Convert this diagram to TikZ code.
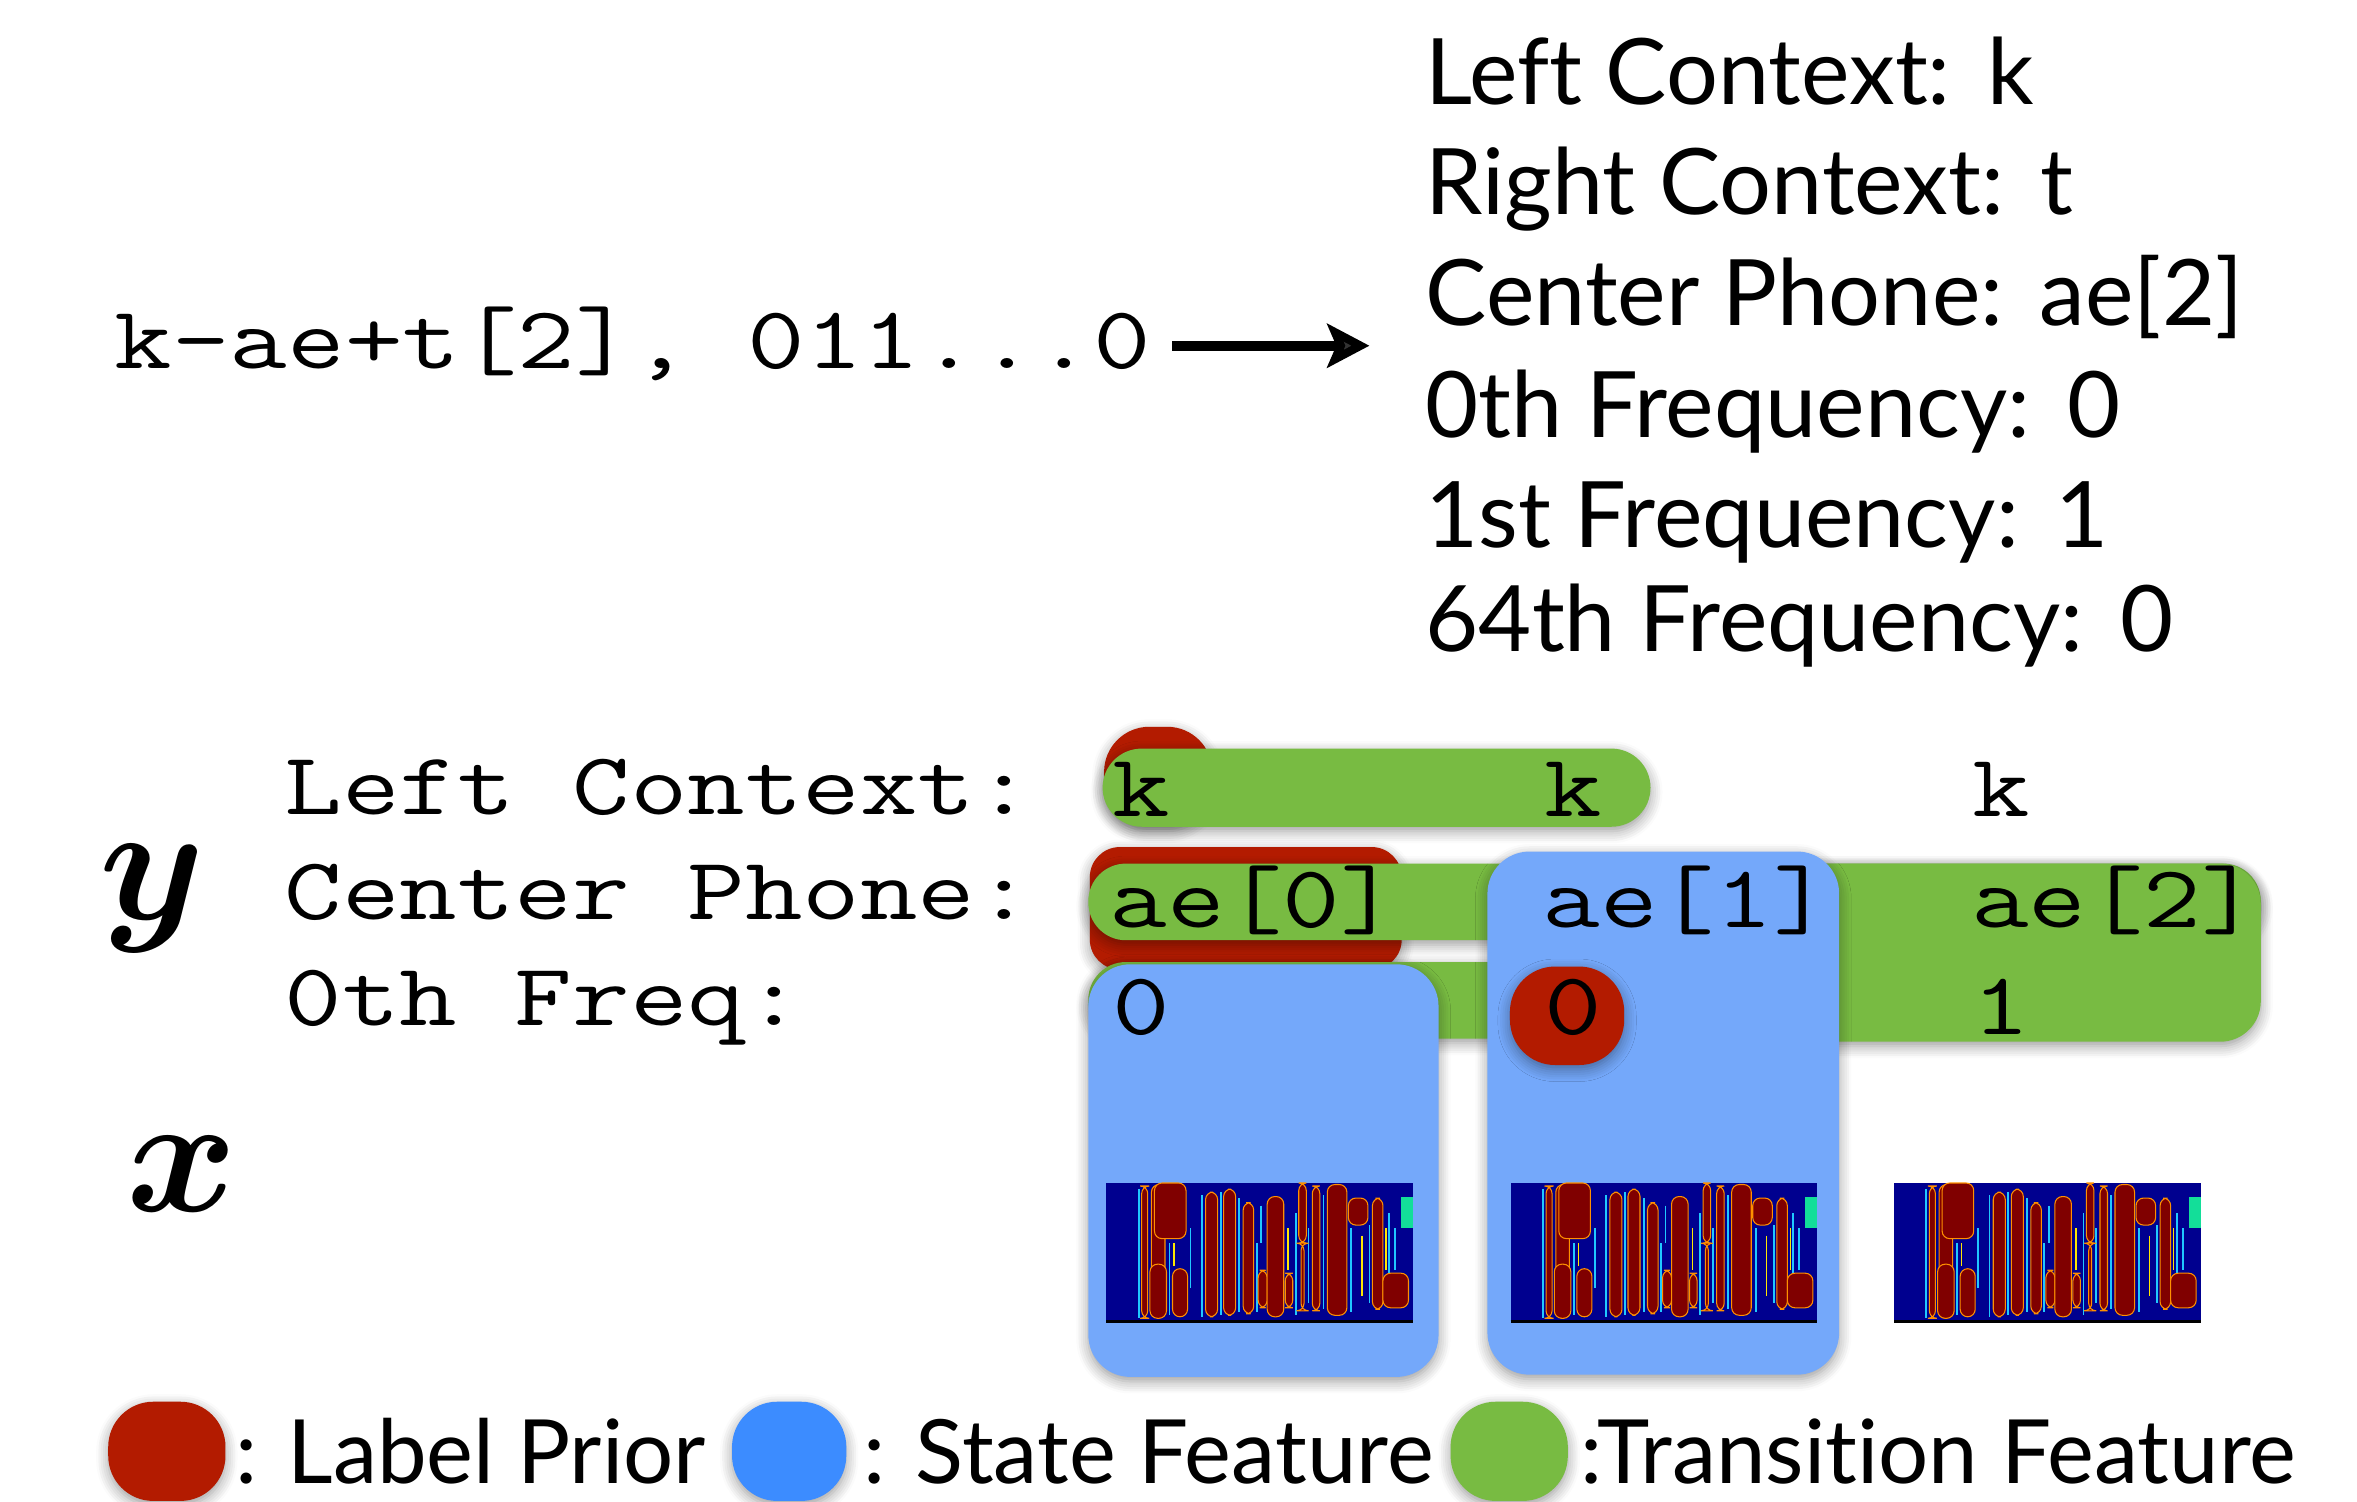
\documentclass[tikz,border=0pt]{standalone}
\usepackage{fontspec}
\usepackage{bm}
\usepackage{graphicx}
\usepackage{tikz}
\usetikzlibrary{arrows.meta,shadows.blur}
\newfontfamily\gill{Lato}[Ligatures=NoCommon]

\definecolor{priorred}{HTML}{B31B00}
\definecolor{statblue}{HTML}{74A8FA}
\definecolor{legblue}{HTML}{3C8CFF}
\definecolor{transgreen}{HTML}{78BB42}
\definecolor{specblue}{HTML}{00008F}
\definecolor{specred}{HTML}{800000}
\definecolor{specyel}{HTML}{FF9000}
\definecolor{speccyan}{HTML}{20C8FF}

\tikzset{
  shad/.style={blur shadow={shadow xshift=0pt, shadow yshift=-1.5pt,
      shadow blur radius=4pt, shadow opacity=40, shadow blur steps=6}},
  prior/.style={fill=priorred, shad},
  statef/.style={fill=statblue, shad},
  transf/.style={fill=transgreen, shad},
  mono/.style={inner sep=0pt, anchor=base west, font=\ttfamily\fontsize{29.5}{35}\selectfont},
  gilltxt/.style={inner sep=0pt, anchor=base west, font=\gill\fontsize{30.5}{36}\selectfont},
  legtxt/.style={inner sep=0pt, anchor=base west, font=\gill\fontsize{29.5}{36}\selectfont},
  bigvar/.style={inner sep=0pt, anchor=base west},
  specbar/.style={fill=specred, draw=specyel, line width=0.35pt, rounded corners=2.5pt},
  specfr/.style={speccyan, line width=0.6pt},
  specye/.style={yellow!90!orange, line width=0.5pt}
}

\newcommand\wide[1]{\scalebox{1.26}[1]{#1}}
\newcommand\gap{\hspace{0.4em}}

% spectrogram, top left corner at (#1,#2)
\newcommand\spectro[2]{%
  \begin{scope}[shift={(#1,#2)}]
    \fill[specblue] (0,0) rectangle (204,92);
    \draw[specfr] (21.5,4) -- (21.5,90);
    \draw[specfr] (42,40) -- (42,88);
    \draw[specfr] (56,30) -- (56,70);
    \draw[specfr] (63.5,8) -- (63.5,89);
    \draw[specfr] (76,6) -- (76,88);
    \draw[specfr] (88.5,10) -- (88.5,86);
    \draw[specfr] (100,40) -- (100,86);
    \draw[specfr] (103,15) -- (103,40);
    \draw[specfr] (126,20) -- (126,88);
    \draw[specfr] (134.5,30) -- (134.5,80);
    \draw[specfr] (144.5,8) -- (144.5,84);
    \draw[specfr] (163,30) -- (163,86);
    \draw[specfr] (175,28) -- (175,80);
    \draw[specfr] (188,20) -- (188,60);
    \draw[specfr] (192,30) -- (192,58);
    \draw[specye] (45,40) -- (45,55);
    \draw[specye] (121,30) -- (121,58);
    \draw[specye] (170,35) -- (170,75);
    \draw[specye] (186,30) -- (186,58);
    \fill[specbar] (23.5,2) rectangle (27.5,90);
    \fill[specbar] (30,1) rectangle (39,90);
    \fill[specbar] (32,0) rectangle (53,37);
    \fill[specbar] (29,54) rectangle (40,90);
    \fill[specbar] (44,57) rectangle (54,89);
    \fill[specbar] (66,6) rectangle (74,89);
    \fill[specbar] (78,4) rectangle (86,88);
    \fill[specbar] (91,13) rectangle (98,87);
    \fill[specbar] (101,58) rectangle (107,83);
    \fill[specbar] (107,9) rectangle (118,89);
    \fill[specbar] (119,60) rectangle (124,83);
    \fill[specbar] (128,0) rectangle (133,40);
    \fill[specbar] (129.5,40) rectangle (131.5,85);
    \fill[specbar] (137,2) rectangle (142,85);
    \fill[specbar] (147,1) rectangle (160,88);
    \fill[specbar] (161,10) rectangle (174,28);
    \fill[specbar] (177,10) rectangle (184,84);
    \fill[specbar] (184,60) rectangle (201,83);
    \fill[speccyan!60!green] (196,9) rectangle (204,30);
    \draw[line width=1.2pt] (0,92) -- (204,92);
  \end{scope}}

\begin{document}
\begin{tikzpicture}[x=0.5pt, y=-0.5pt]
   \useasboundingbox (0,0) rectangle (1568,999);

   % feature groups
   \fill[prior, rounded corners=15pt] (734.5,483.5) rectangle (806.5,550);
   \fill[transf, rounded corners=13pt] (733.5,498) rectangle (1098,550);
   \fill[prior, rounded corners=10pt] (725,563.5) rectangle (932.5,645);
   \fill[transf, rounded corners=12.5pt] (724,574.5) rectangle (1504,625.5);
   \fill[transf, rounded corners=13.5pt] (1000,574.5) rectangle (1504,693);
   \fill[transf, rounded corners=12.5pt] (724,640) rectangle (1100,691);
   \fill[statef, rounded corners=14pt] (724,641.5) rectangle (957,916);
   \fill[statef, rounded corners=14pt] (989.5,566.5) rectangle (1223.5,914.5);
   \fill[prior, rounded corners=15pt] (1004.5,643) rectangle (1080.5,708.5);

   % observation
   \spectro{736}{787}
   \spectro{1005}{787}
   \spectro{1260}{787}

   % label and arrow
   \node[mono] (code) at (76,245) {\wide{k-ae+t[2], 011...0}};
   \coordinate (arrend) at (911,230);
   \draw[-{Stealth[length=14pt,width=14.5pt,inset=3pt]}, line width=3.2pt, shorten <=7pt]
      (code.east |- arrend) -- (arrend);

   \node[gilltxt] (lc) at (948,69.7) {Left Context:\gap k};
   \node[gilltxt] (rc) at (948,143) {Right Context:\gap t};
   \node[gilltxt] (cp) at (948,216.3) {Center Phone:\gap ae[2]};
   \node[gilltxt] (f0) at (948,291) {0th Frequency:\gap 0};
   \node[gilltxt] (f1) at (948,364.3) {1st Frequency:\gap 1};
   \node[gilltxt] (f64) at (948,433.4) {64th Frequency:\gap 0};

   % rows of y
   \node[mono] (lcx) at (189,542) {\wide{Left Context:}};
   \node[mono] (cph) at (189,612) {\wide{Center Phone:}};
   \node[mono] (frq) at (189,682) {\wide{0th Freq:}};
   \node[bigvar] (yvar) at (66,612) {\scalebox{5.6}{$\bm{y}$}};
   \node[bigvar] (xvar) at (84,806) {\scalebox{5.6}{$\bm{x}$}};

   \node[mono] (k0) at (740,543) {\wide{k}};
   \node[mono] (k1) at (1027,543) {\wide{k}};
   \node[mono] (k2) at (1312,543) {\wide{k}};
   \node[mono] (ae0) at (738,617) {\wide{ae[0]}};
   \node[mono] (ae1) at (1026,617) {\wide{ae[1]}};
   \node[mono] (ae2) at (1311,617) {\wide{ae[2]}};
   \node[mono] (b0) at (740,688) {\wide{0}};
   \node[mono] (b1) at (1027,688) {\wide{0}};
   \node[mono] (b2) at (1312,688) {\wide{1}};

   % legend
   \fill[prior, rounded corners=15pt] (72,932.5) rectangle (150,998.5);
   \fill[legblue, shad, rounded corners=15pt] (487,932.5) rectangle (563,998.5);
   \fill[transf, rounded corners=15pt] (965,932.5) rectangle (1043,998.5);
   \node[legtxt] (lp) at (156,987) {: Label Prior};
   \node[legtxt] (sf) at (574,987) {: State Feature};
   \node[legtxt] (tf) at (1051,987) {:Transition Feature};
\end{tikzpicture}
\end{document}
